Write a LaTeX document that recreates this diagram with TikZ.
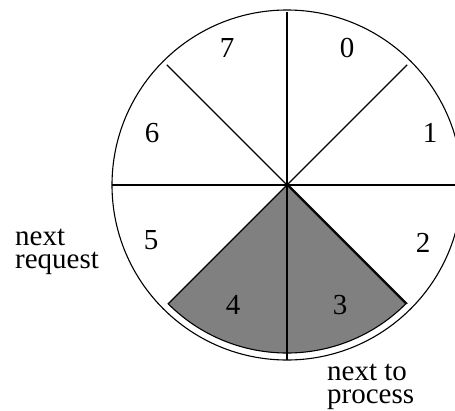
\documentclass[tikz,border=0pt]{standalone}
\usepackage{fontspec}
\setmainfont{Liberation Serif}
\usetikzlibrary{calc}
\begin{document}
\begin{tikzpicture}[x=1pt,y=-1pt,
  lbl/.style={font=\fontsize{29}{25}\selectfont, inner sep=0pt},
  side/.style={font=\fontsize{29}{23}\selectfont, inner sep=0pt, align=left, anchor=base west},
  spoke/.style={line width=1.1pt},
  sectorfill/.style={fill=black!50, draw=black, line width=1.1pt}]
\useasboundingbox (0,0) rectangle (455,410);
\clip (0,0) rectangle (455,410);
\coordinate (c) at (287,185);
% shaded sector 3,4 (y axis points down)
\fill[sectorfill] (c) -- ++(135:168) arc[start angle=135, end angle=45, radius=168] -- cycle;
% outer circle
\draw[spoke] (c) circle[radius=175];
% spokes
\draw[spoke] ($(c)+(-175,0)$) -- ($(c)+(175,0)$);
\draw[spoke] (c) -- ++(0,-173);
\draw[spoke] (c) -- ++(0,175);
\draw[spoke] (c) -- ++(-45:170);
\draw[spoke] (c) -- ++(-135:170);
\draw[spoke] ($(c)+(1.5,0)$) -- ++(45:168);
\fill (c) circle[radius=2];
% labels
\node[lbl] (n0) at (347,48) {0};
\node[lbl] (n1) at (430,133) {1};
\node[lbl] (n2) at (423,243) {2};
\node[lbl] (n3) at (340,305) {3};
\node[lbl] (n4) at (233,305) {4};
\node[lbl] (n5) at (151,240) {5};
\node[lbl] (n6) at (152,133) {6};
\node[lbl] (n7) at (227,48) {7};
\node[side] (req) at (15,268) {next\\request};
\node[side] (proc) at (327,403) {next to\\process};
\end{tikzpicture}
\end{document}
